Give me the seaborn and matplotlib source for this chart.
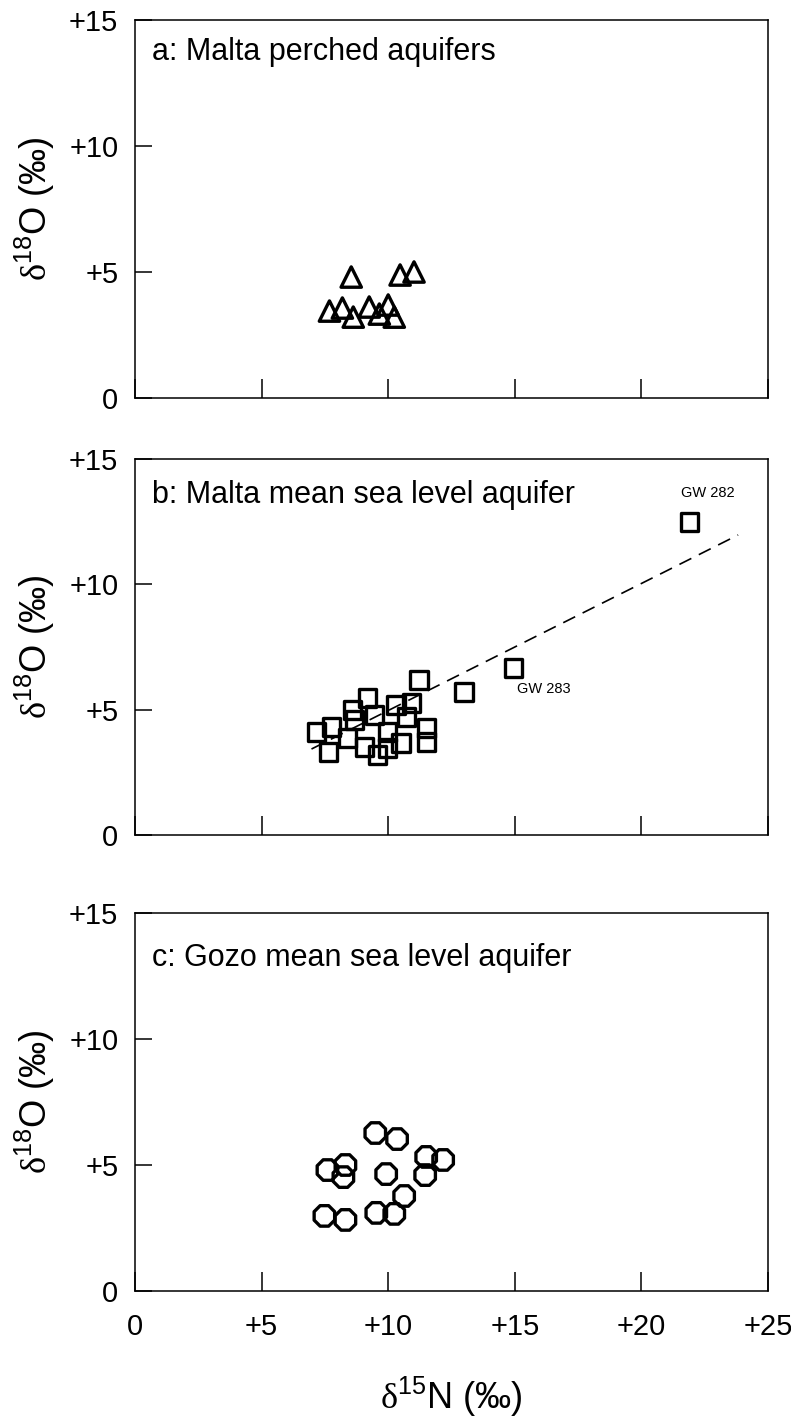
import numpy as np
import pandas as pd
import matplotlib
matplotlib.use("Agg")
import matplotlib.pyplot as plt
import seaborn as sns

# panel a: Malta perched aquifers
a_n15 = [8.54, 10.47, 11.02, 7.68, 8.19, 8.62, 9.25, 9.65, 10.0, 10.24]
a_o18 = [4.80, 4.88, 5.00, 3.45, 3.57, 3.21, 3.61, 3.33, 3.69, 3.21]

# panel b: Malta mean sea level aquifer
b_n15 = [11.22, 7.17, 7.76, 7.64, 9.17, 8.58, 8.66, 9.45, 8.39, 9.06, 9.57,
         9.96, 9.96, 10.31, 10.91, 10.71, 10.51, 11.50, 11.50, 12.99, 14.96, 21.89]
b_o18 = [6.18, 4.11, 4.31, 3.31, 5.46, 4.99, 4.59, 4.79, 3.87, 3.51, 3.19,
         4.11, 3.47, 5.19, 5.27, 4.71, 3.67, 4.27, 3.71, 5.70, 6.66, 12.49]
b_fit_n15 = [6.97, 23.82]
b_fit_o18 = [3.43, 11.97]

# panel c: Gozo mean sea level aquifer
c_n15 = [9.49, 10.35, 11.50, 12.17, 11.46, 9.92, 7.60, 8.31, 8.23, 10.63,
         7.48, 8.31, 9.53, 10.24]
c_o18 = [6.27, 6.03, 5.32, 5.20, 4.60, 4.64, 4.80, 5.00, 4.52, 3.77,
         2.98, 2.82, 3.10, 3.06]

x_ticks = [0, 5, 10, 15, 20, 25]
x_labels = ["0", "+5", "+10", "+15", "+20", "+25"]
y_ticks = [0, 5, 10, 15]
y_labels = ["0", "+5", "+10", "+15"]

sns.set_style("white")
plt.rcParams['font.family'] = ['Liberation Sans', 'DejaVu Sans']
plt.rcParams['mathtext.fontset'] = 'custom'
plt.rcParams['mathtext.rm'] = 'Liberation Serif'
plt.rcParams['mathtext.sf'] = 'Liberation Sans'
plt.rcParams['text.color'] = 'black'
plt.rcParams['axes.labelcolor'] = 'black'
plt.rcParams['xtick.color'] = 'black'
plt.rcParams['ytick.color'] = 'black'

fig = plt.figure(figsize=(7.91, 14.25), dpi=100)
W, H = 791, 1425
left, right = 135, 768

def add_axes(top, bottom):
    return fig.add_axes([left / W, 1 - bottom / H, (right - left) / W, (bottom - top) / H])

ax_a = add_axes(20, 398)
ax_b = add_axes(459, 835)
ax_c = add_axes(913, 1291)

df_a = pd.DataFrame({"n15": a_n15, "o18": a_o18})
df_b = pd.DataFrame({"n15": b_n15, "o18": b_o18})
df_c = pd.DataFrame({"n15": c_n15, "o18": c_o18})
df_fit = pd.DataFrame({"n15": b_fit_n15, "o18": b_fit_o18})

sns.scatterplot(data=df_a, x="n15", y="o18", ax=ax_a, marker="^", s=215,
                facecolor="none", edgecolor="black", linewidth=2.4)
sns.lineplot(data=df_fit, x="n15", y="o18", ax=ax_b, color="black",
             linewidth=1.2, linestyle=(0, (8, 5)))
sns.scatterplot(data=df_b, x="n15", y="o18", ax=ax_b, marker="s", s=155,
                facecolor="none", edgecolor="black", linewidth=2.4)
sns.scatterplot(data=df_c, x="n15", y="o18", ax=ax_c, marker="8", s=255,
                facecolor="none", edgecolor="black", linewidth=2.4)

ax_b.text(21.57, 13.66, "GW 282", fontsize=10.5, va="center", ha="left")
ax_b.text(15.08, 5.83, "GW 283", fontsize=10.5, va="center", ha="left")

titles = ["a: Malta perched aquifers", "b: Malta mean sea level aquifer",
          "c: Gozo mean sea level aquifer"]
title_y = [0.915, 0.905, 0.88]
for ax, title, ty in zip([ax_a, ax_b, ax_c], titles, title_y):
    ax.set_xlim(0, 25)
    ax.set_ylim(0, 15)
    ax.set_xticks(x_ticks)
    ax.set_yticks(y_ticks)
    ax.set_yticklabels(y_labels)
    ax.tick_params(direction="in", width=1.1, labelsize=21,
                   bottom=True, left=True, top=False, right=False)
    ax.tick_params(axis="x", length=14, pad=16)
    ax.tick_params(axis="y", length=12, pad=12)
    for sp in ax.spines.values():
        sp.set_linewidth(1.1)
        sp.set_color("black")
    ax.text(0.027, ty, title, transform=ax.transAxes, fontsize=22,
            va="center", ha="left")
    ax.set_ylabel(r"$\mathrm{\delta}^{\mathsf{18}}$O (‰)", fontsize=26, labelpad=9)
    ax.set_xlabel("")

ax_a.set_xticklabels([])
ax_b.set_xticklabels([])
ax_c.set_xticklabels(x_labels)
ax_c.set_xlabel(r"$\mathrm{\delta}^{\mathsf{15}}$N (‰)", fontsize=26, labelpad=24)

fig.savefig("out.png", dpi=100)
